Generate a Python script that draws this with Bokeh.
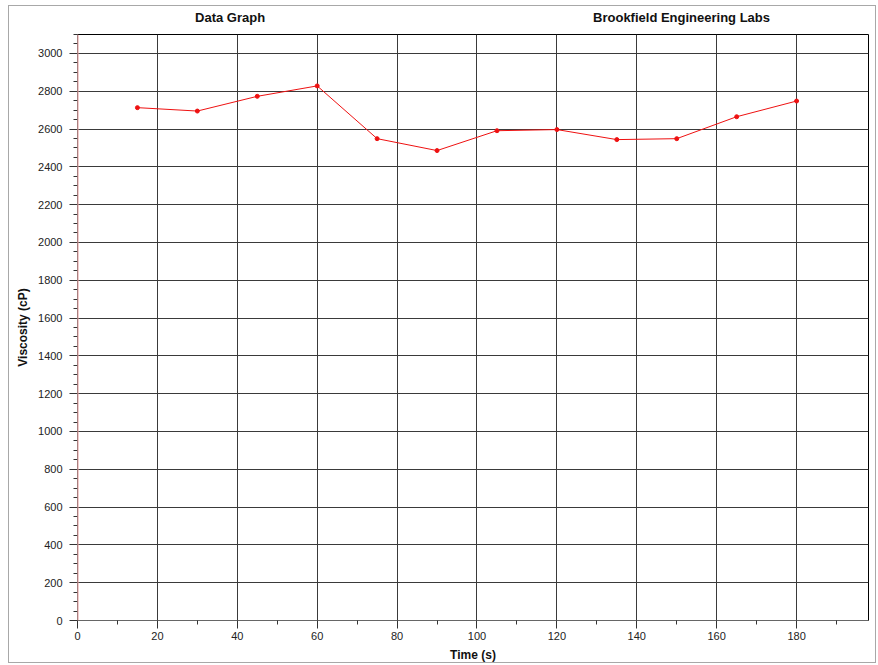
from bokeh.plotting import figure
from bokeh.models import FixedTicker, Range1d, Span, LinearAxis
from bokeh.embed import file_html
from bokeh.resources import INLINE

# Data
time_s = [15, 30, 45, 60, 75, 90, 105, 120, 135, 150, 165, 180]
viscosity_cp = [2713, 2695, 2773, 2828, 2549, 2486, 2591, 2597, 2544, 2549, 2665, 2748]

x_ticks = [0, 20, 40, 60, 80, 100, 120, 140, 160, 180]
x_minor = [10, 30, 50, 70, 90, 110, 130, 150, 170, 190]
y_ticks = list(range(0, 3001, 200))
y_minor = [v for v in range(0, 3101, 50) if v % 200 != 0]

title_left = "Data Graph"
title_right = "Brookfield Engineering Labs"
title_pos = [38.2, 151.2]
x_label = "Time (s)"
y_label = "Viscosity (cP)"

FONT = "Liberation Sans"

p = figure(width=868, height=658, output_backend="svg", toolbar_location=None,
           x_range=Range1d(0, 198), y_range=Range1d(0, 3100),
           min_border_left=68, min_border_top=27, min_border_right=9, min_border_bottom=42)
p.styles = {"border": "1px solid #a8a8a8", "margin-left": "8px", "margin-top": "5px"}
p.background_fill_color = "white"
p.border_fill_color = "white"
p.outline_line_color = "black"
p.outline_line_width = 1

# Grid
p.xgrid.ticker = FixedTicker(ticks=x_ticks)
p.ygrid.ticker = FixedTicker(ticks=y_ticks)
for g in (p.xgrid, p.ygrid):
    g.grid_line_color = "#3a3a3a"
    g.grid_line_width = 1

# Axes
p.xaxis.ticker = FixedTicker(ticks=x_ticks, minor_ticks=x_minor)
p.yaxis.ticker = FixedTicker(ticks=y_ticks, minor_ticks=y_minor)
for ax in (p.xaxis, p.yaxis):
    ax.axis_line_color = "#666666"
    ax.major_tick_line_color = "#333333"
    ax.minor_tick_line_color = "#333333"
    ax.major_tick_out = 8
    ax.major_tick_in = 0
    ax.minor_tick_out = 4
    ax.minor_tick_in = 0
    ax.major_label_text_font = FONT
    ax.major_label_text_font_size = "11px"
    ax.major_label_text_color = "#222222"
    ax.axis_label_text_font = FONT
    ax.axis_label_text_font_size = "12px"
    ax.axis_label_text_font_style = "bold"
    ax.axis_label_text_color = "#111111"
p.xaxis.axis_label = x_label
p.yaxis.axis_label = y_label
p.xaxis.major_label_standoff = 3
p.xaxis.axis_label_standoff = 5
p.yaxis.major_label_standoff = 7
p.yaxis.axis_label_standoff = 5

# Chart titles drawn as labels of a bare top axis
top = LinearAxis(ticker=FixedTicker(ticks=title_pos, minor_ticks=[]),
                 major_label_overrides={title_pos[0]: title_left, title_pos[1]: title_right},
                 axis_line_color=None, major_tick_line_color=None, minor_tick_line_color=None,
                 major_label_standoff=4, major_label_text_font=FONT,
                 major_label_text_font_size="13px", major_label_text_font_style="bold",
                 major_label_text_color="#111111")
p.add_layout(top, "above")

# Pinkish left frame edge
p.add_layout(Span(location=0, dimension="height", line_color="#e89a9a", line_width=2))

# Data
p.line(time_s, viscosity_cp, line_color="#ee1111", line_width=1)
p.scatter(time_s, viscosity_cp, size=4, color="#ee1111")

open("out.html", "w").write(file_html(p, INLINE))
